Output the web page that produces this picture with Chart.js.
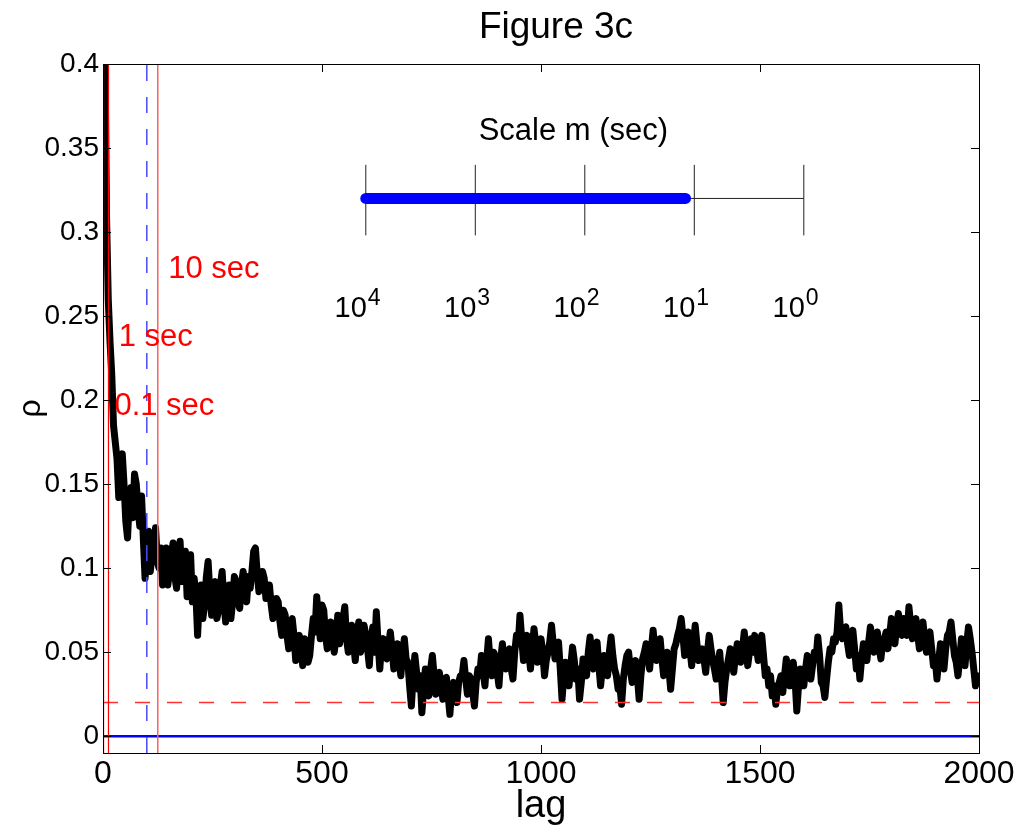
<!DOCTYPE html>
<html>
<head>
<meta charset="utf-8">
<title>Figure 3c</title>
<script src="https://cdn.jsdelivr.net/npm/chart.js@4.4.1/dist/chart.umd.min.js"></script>
<style>
    html, body { margin: 0; padding: 0; background: #fff; }
    #fig { display: block; }
</style>
</head>
<body>
<canvas id="fig" width="1028" height="834"></canvas>
<script>
// autocorrelation rho, every 4 lags (lag 0 .. 2000), 20 values per row
const lagStep = 4;
const rhoValues = [
    0.62, 0.42, 0.31, 0.26, 0.235, 0.215, 0.185, 0.175, 0.165, 0.142, 0.160, 0.168, 0.150, 0.128, 0.118, 0.140, 0.148, 0.130, 0.156, 0.150,
    0.135, 0.125, 0.143, 0.118, 0.094, 0.110, 0.122, 0.098, 0.108, 0.112, 0.124, 0.104, 0.100, 0.112, 0.090, 0.102, 0.112, 0.090, 0.098, 0.108,
    0.115, 0.095, 0.088, 0.104, 0.116, 0.092, 0.100, 0.110, 0.083, 0.098, 0.108, 0.080, 0.094, 0.085, 0.060, 0.082, 0.090, 0.070, 0.078, 0.095,
    0.104, 0.085, 0.072, 0.088, 0.092, 0.070, 0.075, 0.090, 0.098, 0.080, 0.068, 0.082, 0.090, 0.070, 0.080, 0.095, 0.092, 0.080, 0.076, 0.090,
    0.098, 0.085, 0.080, 0.095, 0.088, 0.098, 0.110, 0.112, 0.097, 0.086, 0.090, 0.098, 0.094, 0.082, 0.083, 0.090, 0.078, 0.070, 0.072, 0.082,
    0.080, 0.068, 0.060, 0.075, 0.072, 0.060, 0.052, 0.066, 0.070, 0.060, 0.045, 0.058, 0.060, 0.052, 0.042, 0.058, 0.056, 0.044, 0.048, 0.060,
    0.070, 0.062, 0.083, 0.070, 0.058, 0.078, 0.075, 0.060, 0.052, 0.062, 0.068, 0.058, 0.050, 0.060, 0.072, 0.055, 0.062, 0.070, 0.077, 0.058,
    0.050, 0.060, 0.066, 0.055, 0.045, 0.060, 0.068, 0.050, 0.055, 0.066, 0.060, 0.052, 0.042, 0.058, 0.065, 0.050, 0.074, 0.056, 0.040, 0.055,
    0.058, 0.048, 0.046, 0.054, 0.062, 0.052, 0.040, 0.050, 0.055, 0.045, 0.036, 0.050, 0.058, 0.046, 0.044, 0.030, 0.018, 0.035, 0.048, 0.038,
    0.028, 0.036, 0.014, 0.028, 0.040, 0.030, 0.024, 0.040, 0.048, 0.036, 0.025, 0.034, 0.038, 0.030, 0.022, 0.034, 0.035, 0.024, 0.013, 0.028,
    0.032, 0.026, 0.020, 0.032, 0.036, 0.036, 0.045, 0.034, 0.025, 0.036, 0.034, 0.026, 0.018, 0.032, 0.040, 0.036, 0.048, 0.038, 0.030, 0.045,
    0.058, 0.044, 0.036, 0.050, 0.047, 0.038, 0.030, 0.046, 0.055, 0.044, 0.040, 0.050, 0.052, 0.040, 0.034, 0.050, 0.060, 0.055, 0.072, 0.058,
    0.045, 0.055, 0.060, 0.050, 0.040, 0.052, 0.064, 0.055, 0.044, 0.048, 0.058, 0.050, 0.036, 0.045, 0.050, 0.056, 0.066, 0.055, 0.046, 0.052,
    0.056, 0.040, 0.022, 0.035, 0.044, 0.040, 0.030, 0.042, 0.053, 0.045, 0.034, 0.040, 0.022, 0.032, 0.046, 0.042, 0.036, 0.050, 0.059, 0.048,
    0.040, 0.050, 0.056, 0.042, 0.030, 0.040, 0.048, 0.042, 0.036, 0.050, 0.059, 0.048, 0.040, 0.036, 0.028, 0.030, 0.019, 0.034, 0.042, 0.048,
    0.050, 0.040, 0.032, 0.040, 0.045, 0.036, 0.022, 0.036, 0.046, 0.050, 0.055, 0.048, 0.040, 0.052, 0.063, 0.052, 0.045, 0.052, 0.058, 0.046,
    0.036, 0.044, 0.050, 0.040, 0.028, 0.040, 0.052, 0.055, 0.060, 0.064, 0.070, 0.060, 0.048, 0.055, 0.062, 0.052, 0.042, 0.055, 0.066, 0.055,
    0.045, 0.050, 0.052, 0.046, 0.038, 0.050, 0.060, 0.052, 0.045, 0.040, 0.034, 0.042, 0.050, 0.036, 0.020, 0.032, 0.040, 0.046, 0.052, 0.045,
    0.038, 0.048, 0.055, 0.050, 0.044, 0.052, 0.062, 0.052, 0.042, 0.050, 0.058, 0.050, 0.060, 0.052, 0.045, 0.054, 0.060, 0.048, 0.036, 0.040,
    0.030, 0.036, 0.024, 0.030, 0.019, 0.028, 0.032, 0.036, 0.026, 0.036, 0.046, 0.040, 0.030, 0.036, 0.044, 0.034, 0.015, 0.030, 0.040, 0.034,
    0.030, 0.040, 0.048, 0.042, 0.034, 0.042, 0.050, 0.046, 0.059, 0.048, 0.032, 0.030, 0.023, 0.034, 0.044, 0.052, 0.050, 0.058, 0.056, 0.062,
    0.078, 0.062, 0.058, 0.064, 0.065, 0.055, 0.048, 0.058, 0.063, 0.052, 0.040, 0.048, 0.034, 0.046, 0.055, 0.050, 0.045, 0.056, 0.065, 0.058,
    0.050, 0.056, 0.062, 0.052, 0.046, 0.056, 0.058, 0.062, 0.052, 0.060, 0.070, 0.062, 0.055, 0.066, 0.073, 0.064, 0.060, 0.070, 0.066, 0.060,
    0.077, 0.066, 0.058, 0.066, 0.070, 0.060, 0.052, 0.060, 0.068, 0.058, 0.050, 0.060, 0.062, 0.052, 0.042, 0.046, 0.034, 0.045, 0.055, 0.050,
    0.040, 0.052, 0.060, 0.062, 0.068, 0.058, 0.048, 0.044, 0.036, 0.046, 0.058, 0.052, 0.042, 0.055, 0.065, 0.058, 0.050, 0.040, 0.030, 0.036,
    0.034
];

// axis ticks
const xTickValues = [0, 500, 1000, 1500, 2000];
const yTickValues = [0, 0.05, 0.1, 0.15, 0.2, 0.25, 0.3, 0.35, 0.4];
const xRange = [0, 2000];
const yRange = [-0.01, 0.4];

// reference lines
const secondLags = [1.25, 12.5, 125];         // 0.1 sec, 1 sec, 10 sec
const secondLabels = ['0.1 sec', '1 sec', '10 sec'];
const secondLabelAt = [[26, 0.196], [36, 0.237], [149, 0.278]];
const dashedLag = 100;
const thresholdRho = 0.02;

// inset "Scale m (sec)" bar
const insetTickLags = [600, 850, 1100, 1350, 1600];
const insetExponents = ['4', '3', '2', '1', '0'];
const insetBarRho = 0.32;
const insetTickSpan = [0.298, 0.34];
const insetBlueSpan = [600, 1330];
const insetTitle = 'Scale m (sec)';
const insetTitleAt = [1074, 0.36];
const insetLabelRho = 0.2545;

Chart.defaults.font.family = "'Liberation Sans', Arial, sans-serif";
Chart.defaults.color = '#000';

function vline(x, color, width, dash) {
    return {
        data: [{ x: x, y: yRange[0] }, { x: x, y: yRange[1] }],
        borderColor: color, borderWidth: width, borderDash: dash || [],
        pointRadius: 0, clip: 0
    };
}
function hline(y, x0, x1, color, width, dash) {
    return {
        data: [{ x: x0, y: y }, { x: x1, y: y }],
        borderColor: color, borderWidth: width, borderDash: dash || [],
        pointRadius: 0, clip: 0
    };
}

const datasets = [];
datasets.push(vline(secondLags[0], '#ff0000', 1.2));
datasets.push(vline(secondLags[1], '#ff0000', 1.2));
datasets.push(vline(secondLags[2], '#ff6060', 1.5));
datasets.push(vline(dashedLag, '#4a4aff', 1.5, [16, 16]));
datasets.push(hline(thresholdRho, xRange[0], xRange[1], '#ff3030', 1.5, [15, 17]));
datasets.push(hline(0, xRange[0], xRange[1], '#0000ff', 2.5));
// inset
datasets.push({
    data: [{ x: insetBlueSpan[0], y: insetBarRho }, { x: insetBlueSpan[1], y: insetBarRho }],
    borderColor: '#0000ff', borderWidth: 11, borderCapStyle: 'round', pointRadius: 0
});
datasets.push(hline(insetBarRho, insetTickLags[0], insetTickLags[insetTickLags.length - 1], '#222', 1));
insetTickLags.forEach(l => datasets.push({
    data: [{ x: l, y: insetTickSpan[0] }, { x: l, y: insetTickSpan[1] }],
    borderColor: '#222', borderWidth: 1, pointRadius: 0
}));
// the rho curve, drawn underneath everything else
datasets.push({
    data: rhoValues.map((v, i) => ({ x: i * lagStep, y: v })),
    borderColor: '#000', borderWidth: 7, borderJoinStyle: 'round', borderCapStyle: 'round',
    pointRadius: 0, tension: 0, clip: 0
});

// matlab style box, inward ticks and the text annotations
const matlabFrame = {
    id: 'matlabFrame',
    afterDraw(chart) {
        const { ctx, chartArea: a, scales: { x, y } } = chart;
        ctx.save();
        ctx.strokeStyle = '#000';
        ctx.lineWidth = 1;
        ctx.strokeRect(a.left + 0.5, a.top + 0.5, a.right - a.left, a.bottom - a.top);
        const tl = 8;
        ctx.beginPath();
        xTickValues.forEach(v => {
            const px = Math.round(x.getPixelForValue(v)) + 0.5;
            ctx.moveTo(px, a.bottom); ctx.lineTo(px, a.bottom - tl);
            ctx.moveTo(px, a.top); ctx.lineTo(px, a.top + tl);
        });
        yTickValues.forEach(v => {
            const py = Math.round(y.getPixelForValue(v)) + 0.5;
            ctx.moveTo(a.left, py); ctx.lineTo(a.left + tl, py);
            ctx.moveTo(a.right, py); ctx.lineTo(a.right - tl, py);
        });
        ctx.stroke();

        // title
        ctx.fillStyle = '#000';
        ctx.textAlign = 'center';
        ctx.textBaseline = 'middle';
        ctx.font = "37px 'Liberation Sans', Arial, sans-serif";
        ctx.fillText('Figure 3c', 556, 28);

        // second markers
        ctx.fillStyle = '#ff0000';
        ctx.textAlign = 'left';
        ctx.font = "31px 'Liberation Sans', Arial, sans-serif";
        secondLabels.forEach((t, i) => {
            ctx.fillText(t, x.getPixelForValue(secondLabelAt[i][0]), y.getPixelForValue(secondLabelAt[i][1]));
        });

        // inset labels
        ctx.fillStyle = '#000';
        ctx.textAlign = 'center';
        ctx.font = "31px 'Liberation Sans', Arial, sans-serif";
        ctx.fillText(insetTitle, x.getPixelForValue(insetTitleAt[0]), y.getPixelForValue(insetTitleAt[1]));
        insetTickLags.forEach((l, i) => {
            const px = x.getPixelForValue(l);
            const py = y.getPixelForValue(insetLabelRho);
            ctx.font = "29px 'Liberation Sans', Arial, sans-serif";
            ctx.textAlign = 'right';
            ctx.fillText('10', px + 1, py);
            ctx.font = "23px 'Liberation Sans', Arial, sans-serif";
            ctx.textAlign = 'left';
            ctx.fillText(insetExponents[i], px + 2, py - 10);
        });
        ctx.restore();
    }
};

new Chart(document.getElementById('fig'), {
    type: 'line',
    data: { datasets: datasets },
    options: {
        responsive: false,
        animation: false,
        events: [],
        layout: { padding: { top: 64, right: 49, bottom: 0, left: 0 } },
        plugins: { legend: { display: false }, tooltip: { enabled: false } },
        scales: {
            x: {
                type: 'linear', min: xRange[0], max: xRange[1],
                afterBuildTicks: s => { s.ticks = xTickValues.map(v => ({ value: v })); },
                afterFit: s => { s.height = 81; },
                grid: { drawOnChartArea: false, drawTicks: false },
                border: { display: false },
                ticks: { font: { size: 32 }, padding: 2, maxRotation: 0, callback: v => String(v) },
                title: { display: true, text: 'lag', font: { size: 38 }, padding: { top: 0, bottom: 5 } }
            },
            y: {
                type: 'linear', min: yRange[0], max: yRange[1],
                afterBuildTicks: s => { s.ticks = yTickValues.map(v => ({ value: v })); },
                afterFit: s => { s.width = 103; },
                grid: { drawOnChartArea: false, drawTicks: false },
                border: { display: false },
                ticks: { font: { size: 28 }, padding: 4, callback: v => String(v) },
                title: { display: true, text: 'ρ', font: { size: 32 }, padding: { top: 12, bottom: 0 } }
            }
        }
    },
    plugins: [matlabFrame]
});
</script>
</body>
</html>
